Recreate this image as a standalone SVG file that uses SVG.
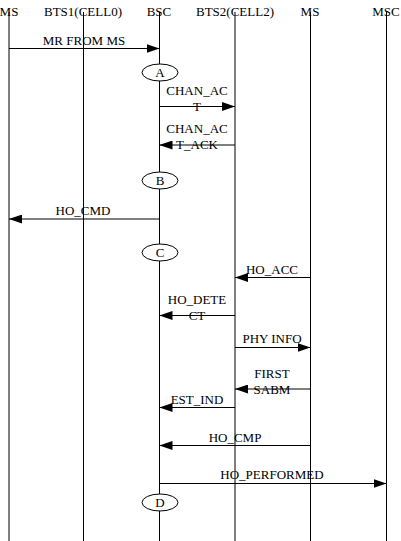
<svg xmlns="http://www.w3.org/2000/svg" width="401" height="541" viewBox="0 0 401 541">
<style>
text{font-family:"Liberation Serif","Times New Roman",serif;font-size:13px;fill:#000;text-anchor:middle}
.life{stroke:#000;stroke-width:1}
.msg{stroke:#000;stroke-width:1;fill:none}
.ell{fill:#fff;stroke:#000;stroke-width:1}
</style>
<defs>
<marker id="ah" markerWidth="13" markerHeight="9" refX="13" refY="4.5" orient="auto" markerUnits="userSpaceOnUse">
<path d="M0,0 L13,4.5 L0,9 Z" fill="#000"/>
</marker>
</defs>
<rect width="401" height="541" fill="#fff"/>
<g id="lifelines">
<g id="ms1"><text x="9" y="16">MS</text><line class="life" x1="9" y1="12" x2="9" y2="541"/></g>
<g id="bts1"><text x="83" y="16">BTS1(CELL0)</text><line class="life" x1="83.5" y1="12" x2="83.5" y2="541"/></g>
<g id="bsc"><text x="159" y="16">BSC</text><line class="life" x1="159.5" y1="12" x2="159.5" y2="541"/></g>
<g id="bts2"><text x="235" y="16">BTS2(CELL2)</text><line class="life" x1="235" y1="12" x2="235" y2="541"/></g>
<g id="ms2"><text x="310" y="16">MS</text><line class="life" x1="310.5" y1="12" x2="310.5" y2="541"/></g>
<g id="msc"><text x="386" y="16">MSC</text><line class="life" x1="386.5" y1="12" x2="386.5" y2="541"/></g>
</g>
<g id="connectors">
<line class="msg" x1="9" y1="48.5" x2="159.5" y2="48.5" marker-end="url(#ah)"/>
<text x="84" y="45">MR FROM MS</text>
<line class="msg" x1="159.5" y1="106.5" x2="235" y2="106.5" marker-end="url(#ah)"/>
<text x="197" y="95">CHAN_AC</text><text x="197" y="111">T</text>
<line class="msg" x1="235" y1="145" x2="159.5" y2="145" marker-end="url(#ah)"/>
<text x="197" y="133">CHAN_AC</text><text x="197" y="149">T_ACK</text>
<line class="msg" x1="159.5" y1="219" x2="9" y2="219" marker-end="url(#ah)"/>
<text x="83" y="215">HO_CMD</text>
<line class="msg" x1="310.5" y1="277.5" x2="235" y2="277.5" marker-end="url(#ah)"/>
<text x="272" y="274">HO_ACC</text>
<line class="msg" x1="235" y1="315.5" x2="159.5" y2="315.5" marker-end="url(#ah)"/>
<text x="197" y="304">HO_DETE</text><text x="197" y="320">CT</text>
<line class="msg" x1="235" y1="347.5" x2="310.5" y2="347.5" marker-end="url(#ah)"/>
<text x="272" y="343">PHY INFO</text>
<line class="msg" x1="310.5" y1="389" x2="235" y2="389" marker-end="url(#ah)"/>
<text x="272" y="378">FIRST</text><text x="272" y="394">SABM</text>
<line class="msg" x1="235" y1="407.5" x2="159.5" y2="407.5" marker-end="url(#ah)"/>
<text x="197" y="404">EST_IND</text>
<line class="msg" x1="310.5" y1="445.5" x2="159.5" y2="445.5" marker-end="url(#ah)"/>
<text x="235" y="442">HO_CMP</text>
<line class="msg" x1="159.5" y1="483.5" x2="386.5" y2="483.5" marker-end="url(#ah)"/>
<text x="272" y="479">HO_PERFORMED</text>
</g>
<g id="A"><ellipse class="ell" cx="160" cy="72.5" rx="18" ry="8.5"/><text x="160" y="77">A</text></g>
<g id="B"><ellipse class="ell" cx="160" cy="180.5" rx="18" ry="8.5"/><text x="160" y="185">B</text></g>
<g id="C"><ellipse class="ell" cx="160" cy="252.5" rx="18" ry="8.5"/><text x="160" y="257">C</text></g>
<g id="D"><ellipse class="ell" cx="160" cy="502.5" rx="18" ry="8.5"/><text x="160" y="507">D</text></g>
</svg>
